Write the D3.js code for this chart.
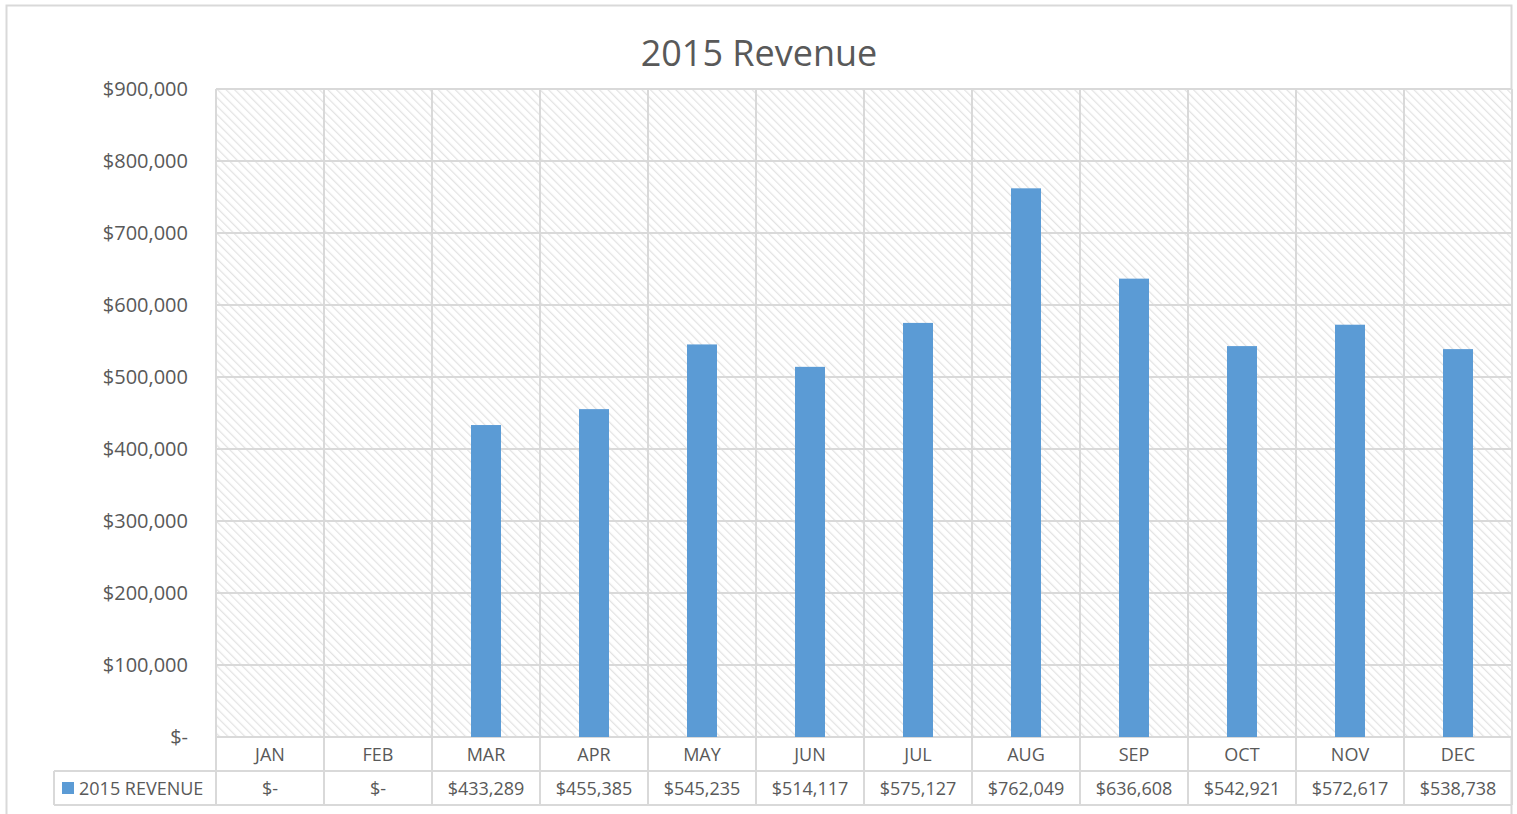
<!DOCTYPE html>
<html lang="en">
    <head>
        <meta charset="UTF-8" />
        <title>2015 Revenue</title>
        <script src="https://d3js.org/d3.v7.min.js"></script>
        <style>
            body {
                margin: 0;
                padding: 0;
                background: #fff;
                font-family: 'Open Sans', 'Noto Sans', sans-serif;
            }
            svg text {
                fill: #595959;
                font-family: 'Open Sans', 'Noto Sans', sans-serif;
            }
        </style>
    </head>
    <body>
        <svg id="chart" width="1517" height="814"></svg>

        <script>
            const months = ['JAN', 'FEB', 'MAR', 'APR', 'MAY', 'JUN', 'JUL', 'AUG', 'SEP', 'OCT', 'NOV', 'DEC'];
            const revenue = [0, 0, 433289, 455385, 545235, 514117, 575127, 762049, 636608, 542921, 572617, 538738];
            const yTicks = [0, 100000, 200000, 300000, 400000, 500000, 600000, 700000, 800000, 900000];
            const seriesName = '2015 REVENUE';
            const title = '2015 Revenue';

            const svg = d3.select('#chart');
            const margin = { top: 89, right: 5, bottom: 77, left: 216 };
            const width = 1512 - margin.left;
            const height = 737 - margin.top;
            const rowH = 34;
            const grid = '#d9d9d9';

            const money = (v) => (v === 0 ? '$-' : '$' + d3.format(',')(v));

            const defs = svg.append('defs');
            const pat = defs
                .append('pattern')
                .attr('id', 'hatch')
                .attr('patternUnits', 'userSpaceOnUse')
                .attr('width', 6)
                .attr('height', 6)
                .attr('patternTransform', 'rotate(-45)');
            pat.append('rect').attr('width', 6).attr('height', 6).attr('fill', '#fff');
            pat.append('line').attr('x1', 0).attr('y1', 0).attr('x2', 0).attr('y2', 6).attr('stroke', '#e3e3e3').attr('stroke-width', 2.5);

            // outer frame
            svg.append('rect')
                .attr('x', 6.5)
                .attr('y', 5.5)
                .attr('width', 1505)
                .attr('height', 820)
                .attr('fill', 'none')
                .attr('stroke', grid)
                .attr('stroke-width', 2);

            svg.append('text')
                .attr('x', 759)
                .attr('y', 66)
                .attr('text-anchor', 'middle')
                .style('font-size', '36px')
                .text(title);

            const x = d3.scaleBand().domain(months).range([0, width]);
            const y = d3.scaleLinear().domain([0, 900000]).range([height, 0]);

            const g = svg.append('g').attr('transform', `translate(${margin.left},${margin.top})`);

            g.append('rect').attr('width', width).attr('height', height).attr('fill', 'url(#hatch)');

            // horizontal gridlines
            g.selectAll('.hgrid')
                .data(yTicks)
                .join('line')
                .attr('x1', 0)
                .attr('x2', width)
                .attr('y1', (d) => y(d))
                .attr('y2', (d) => y(d))
                .attr('stroke', grid)
                .attr('stroke-width', 2);

            // vertical lines through plot and table
            const xEdges = months.map((m) => x(m)).concat([width]);
            g.selectAll('.vgrid')
                .data(xEdges)
                .join('line')
                .attr('x1', (d) => d)
                .attr('x2', (d) => d)
                .attr('y1', 0)
                .attr('y2', height + rowH * 2)
                .attr('stroke', grid)
                .attr('stroke-width', 2);

            // table horizontal lines
            g.append('line').attr('x1', -162).attr('x2', width).attr('y1', height + rowH).attr('y2', height + rowH).attr('stroke', grid).attr('stroke-width', 2);
            g.append('line').attr('x1', -162).attr('x2', width).attr('y1', height + rowH * 2).attr('y2', height + rowH * 2).attr('stroke', grid).attr('stroke-width', 2);
            g.append('line').attr('x1', -162).attr('x2', -162).attr('y1', height + rowH).attr('y2', height + rowH * 2).attr('stroke', grid).attr('stroke-width', 2);

            // bars
            const barW = 30;
            g.selectAll('.bar')
                .data(revenue.map((v, i) => ({ m: months[i], v })))
                .join('rect')
                .attr('x', (d) => x(d.m) + x.bandwidth() / 2 - barW / 2)
                .attr('y', (d) => y(d.v))
                .attr('width', barW)
                .attr('height', (d) => height - y(d.v))
                .attr('fill', '#5b9bd5');

            // y axis labels
            const yAxis = g.append('g').call(d3.axisLeft(y).tickValues(yTicks).tickFormat(money).tickSize(0).tickPadding(28));
            yAxis.attr('font-family', null);
            yAxis.select('.domain').remove();
            yAxis.selectAll('text').style('font-size', '20px');

            // category row
            g.selectAll('.cat')
                .data(months)
                .join('text')
                .attr('x', (d) => x(d) + x.bandwidth() / 2)
                .attr('y', height + rowH / 2 + 7)
                .attr('text-anchor', 'middle')
                .style('font-size', '18px')
                .text((d) => d);

            // value row
            g.selectAll('.val')
                .data(revenue.map((v, i) => ({ m: months[i], v })))
                .join('text')
                .attr('x', (d) => x(d.m) + x.bandwidth() / 2)
                .attr('y', height + rowH * 1.5 + 7)
                .attr('text-anchor', 'middle')
                .style('font-size', '18px')
                .text((d) => money(d.v));

            // legend key in table
            g.append('rect').attr('x', -154).attr('y', height + rowH * 1.5 - 6).attr('width', 12).attr('height', 12).attr('fill', '#5b9bd5');
            g.append('text')
                .attr('x', -137)
                .attr('y', height + rowH * 1.5 + 7)
                .style('font-size', '18px')
                .text(seriesName);
        </script>
    </body>
</html>
